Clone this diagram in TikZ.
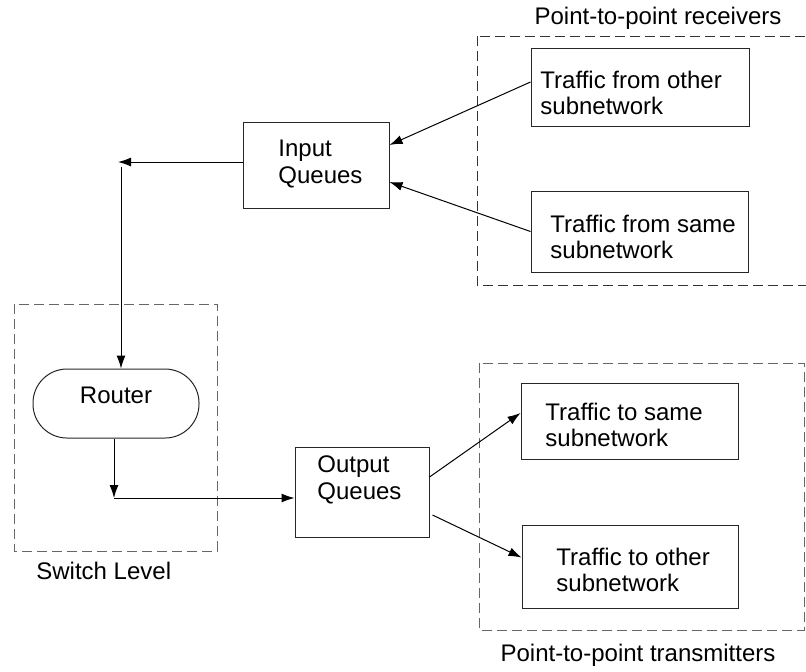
\documentclass[tikz,border=0pt]{standalone}
\usepackage{fontspec}
\setmainfont{Liberation Sans}
\usetikzlibrary{arrows.meta,fit}
\tikzset{
  box/.style={draw=black!85, line width=0.5pt, inner sep=0pt},
  routerbox/.style={box, rounded corners=17pt},
  txt/.style={anchor=west, align=left, inner sep=0pt},
  frame/.style={draw=black!60, line width=0.5pt, dash pattern=on 5pt off 2.5pt},
  arr/.style={line width=0.5pt, -{Latex[length=6.5pt,width=4.5pt]}}
}
\begin{document}
\begin{tikzpicture}[x=0.5pt, y=-0.5pt, font=\fontsize{12}{13.3}\selectfont]
  \useasboundingbox (0,0) rectangle (806,671);
  % group frames
  \draw[frame, draw=black!80] (477,36) rectangle (812,285);
  \draw[frame] (14,304) rectangle (217,551);
  \draw[frame] (479,363) rectangle (804,630);
  \node (rxlabel) at (658,18) {Point-to-point receivers};
  \node[txt] (swlabel) at (36,571) {Switch Level};
  \node (txlabel) at (638,655) {Point-to-point transmitters};
  % receivers
  \node[box, fit={(531,48) (749,126)}] (fromother) {};
  \node[txt] at (540,93) {Traffic from other\\subnetwork};
  \node[box, fit={(531,191) (748,272)}] (fromsame) {};
  \node[txt] at (550,237) {Traffic from same\\subnetwork};
  % queues
  \node[box, fit={(243,122) (389,208)}] (inq) {};
  \node[txt] at (278,164) {Input\\Queues};
  \node[box, fit={(295,447) (429,537)}] (outq) {};
  \node[txt] at (317,480) {Output\\Queues};
  \node[routerbox, fit={(33,369) (199,438)}] (router) {Router};
  % transmitters
  \node[box, fit={(521,383) (738,459)}] (tosame) {};
  \node[txt] at (545,425) {Traffic to same\\subnetwork};
  \node[box, fit={(522,525) (738,608)}] (toother) {};
  \node[txt] at (556,570) {Traffic to other\\subnetwork};
  % connectors
  \coordinate (turn) at (118,162);
  \coordinate (drop) at (121,167);
  \coordinate (corner) at (114,498);
  \draw[arr] ([yshift=2.5pt]fromother.west) -- ([yshift=10pt]inq.east);
  \draw[arr] (fromsame.west) -- ([yshift=-8.5pt]inq.east);
  \draw[arr] (inq.west |- turn) -- (turn);
  \draw[arr] (drop) -- (drop |- router.north);
  \draw[arr] (router.south -| corner) -- (corner);
  \draw[arr] (corner) -- (corner -| outq.west);
  \draw[arr] ([yshift=7.5pt]outq.east) -- ([yshift=4pt]tosame.west);
  \draw[arr] ([xshift=1.5pt,yshift=-11.5pt]outq.east) -- ([yshift=4.5pt]toother.west);
\end{tikzpicture}
\end{document}
